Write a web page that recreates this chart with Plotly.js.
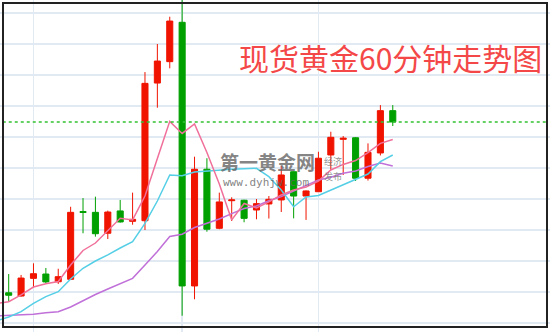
<!DOCTYPE html>
<html>
<head>
<meta charset="utf-8">
<script src="https://cdn.plot.ly/plotly-3.0.1.min.js"></script>
<style>html,body{margin:0;padding:0;background:#fff;}#chart{width:550px;height:332px;}</style>
</head>
<body>
<div id="chart"></div>
<script>
// bar index (60-minute candles)
const bars = [0,1,2,3,4,5,6,7,8,9,10,11,12,13,14,15,16,17,18,19,20,21,22,23,24,25,26,27,28,29,30,31,32];
const open  = [1311.48,1311.95,1311.74,1312.88,1313.16,1312.66,1312.82,1317.19,1317.14,1315.79,1317.23,1316.56,1316.60,1325.48,1326.86,1329.40,1312.39,1319.92,1316.11,1317.89,1317.92,1317.29,1317.68,1317.94,1319.76,1318.19,1318.47,1320.84,1321.85,1321.95,1319.34,1320.97,1323.70];
const high  = [1312.13,1313.16,1313.10,1313.85,1313.55,1313.50,1317.50,1318.06,1318.15,1317.25,1317.94,1318.41,1326.19,1328.00,1329.76,1331.16,1320.73,1320.63,1318.41,1318.11,1317.95,1318.00,1318.19,1320.13,1319.79,1318.55,1321.05,1322.34,1322.06,1321.99,1321.59,1324.06,1324.06];
const low   = [1311.35,1311.37,1311.70,1312.30,1312.56,1312.52,1312.79,1315.79,1315.57,1315.42,1316.48,1316.34,1316.00,1323.89,1326.43,1310.47,1311.53,1315.89,1316.05,1316.58,1316.50,1316.69,1316.74,1317.16,1316.75,1316.65,1318.45,1319.87,1319.55,1319.16,1319.19,1320.81,1322.71];
const close = [1311.95,1311.79,1312.90,1313.18,1312.65,1312.99,1317.14,1317.13,1315.76,1317.16,1316.52,1316.69,1325.46,1326.90,1329.48,1312.39,1319.92,1316.05,1317.81,1317.94,1316.75,1317.70,1317.98,1319.55,1318.19,1318.52,1320.63,1321.98,1321.92,1319.34,1321.01,1323.70,1322.97];
// moving averages
const ma5  = [1311.26,1311.37,1311.81,1312.32,1312.53,1312.68,1313.74,1314.68,1315.16,1315.97,1316.76,1316.65,1318.19,1320.61,1323.01,1322.23,1322.84,1321.00,1318.97,1316.65,1317.71,1317.42,1317.81,1318.26,1318.58,1318.77,1319.16,1319.87,1320.23,1320.48,1320.99,1321.59,1321.84];
const ma10 = [1310.13,1310.39,1310.73,1311.27,1311.70,1312.02,1312.84,1313.53,1314.00,1314.39,1314.84,1315.25,1316.43,1317.87,1319.55,1319.50,1319.74,1319.81,1319.87,1319.92,1319.95,1319.98,1319.44,1318.58,1317.50,1318.13,1318.23,1318.58,1318.90,1319.26,1319.61,1320.41,1320.84];
const ma20 = [1310.45,1310.48,1310.52,1310.56,1310.66,1310.73,1311.03,1311.45,1311.84,1312.19,1312.55,1312.88,1313.74,1314.61,1315.58,1315.73,1316.16,1316.41,1316.71,1317.06,1317.39,1317.55,1317.89,1318.15,1318.52,1318.90,1319.23,1319.40,1319.66,1319.81,1320.10,1320.32,1320.13];
const gridBars = [3,15,26];
const titleText = '现货黄金60分钟走势图';
const markName = '第一黄金网';
const markUrl = 'www.dyhjw.com';

const RED = '#f01400', GREEN = '#00a000';
const traces = [
  {type:'scatter', mode:'lines', x:bars, y:ma20, line:{color:'#c070d8', width:1.5}, hoverinfo:'skip'},
  {type:'scatter', mode:'lines', x:bars, y:ma10, line:{color:'#55cfe6', width:1.5}, hoverinfo:'skip'},
  {type:'scatter', mode:'lines', x:bars, y:ma5,  line:{color:'#f0709a', width:1.5}, hoverinfo:'skip'},
  {type:'candlestick', x:bars, open:open, high:high, low:low, close:close,
   increasing:{line:{color:RED, width:1}, fillcolor:RED},
   decreasing:{line:{color:GREEN, width:1}, fillcolor:GREEN},
   whiskerwidth:0, hoverinfo:'skip'}
];
const last = close[close.length-1];
const layout = {
  width:550, height:332,
  margin:{l:0, r:0, t:0, b:0},
  paper_bgcolor:'#fff', plot_bgcolor:'#fff',
  showlegend:false,
  boxgap:0.3,
  xaxis:{range:[0.299, 44.69], showticklabels:false, ticks:'', zeroline:false,
         tickmode:'array', tickvals:gridBars, showgrid:true, gridcolor:'#e1eaf2', gridwidth:1.5,
         rangeslider:{visible:false}, fixedrange:true},
  yaxis:{range:[1309.419, 1330.839], showticklabels:false, ticks:'', zeroline:false,
         tick0:1310, dtick:2, showgrid:true, gridcolor:'#e1eaf2', gridwidth:1.5, fixedrange:true},
  shapes:[
    {type:'line', xref:'paper', x0:0.005, x1:0.995, yref:'y', y0:last, y1:last,
     line:{color:'#33c233', width:1.5, dash:'dot'}},
    {type:'rect', xref:'paper', yref:'paper', x0:3/550, x1:547/550, y0:1-327/332, y1:1-3/332,
     line:{color:'#222', width:2}, fillcolor:'rgba(0,0,0,0)'}
  ],
  annotations:[
    {xref:'paper', yref:'paper', x:544/550, y:1-57/332, xanchor:'right', yanchor:'middle',
     text:titleText, showarrow:false,
     font:{family:'Noto Sans CJK SC, Noto Sans, sans-serif', size:30, color:'#f44848'}},
    {xref:'paper', yref:'paper', x:267/550, y:1-161/332, xanchor:'center', yanchor:'middle',
     text:'<b>'+markName+'</b>', showarrow:false,
     font:{family:'Noto Sans CJK SC, sans-serif', size:19, color:'rgba(100,100,100,0.8)'}},
    {xref:'paper', yref:'paper', x:266/550, y:1-182/332, xanchor:'center', yanchor:'middle',
     text:markUrl, showarrow:false,
     font:{family:'DejaVu Sans Mono, monospace', size:11, color:'rgba(100,100,100,0.8)'}},
    {xref:'paper', yref:'paper', x:333/550, y:1-161/332, xanchor:'center', yanchor:'middle',
     text:'经济', showarrow:false,
     font:{family:'Noto Sans CJK SC, sans-serif', size:9, color:'rgba(120,120,120,0.8)'}},
    {xref:'paper', yref:'paper', x:333/550, y:1-176/332, xanchor:'center', yanchor:'middle',
     text:'发布', showarrow:false,
     font:{family:'Noto Sans CJK SC, sans-serif', size:9, color:'rgba(120,120,120,0.8)'}}
  ]
};
Plotly.newPlot('chart', traces, layout, {displayModeBar:false, staticPlot:true});
</script>
</body>
</html>
